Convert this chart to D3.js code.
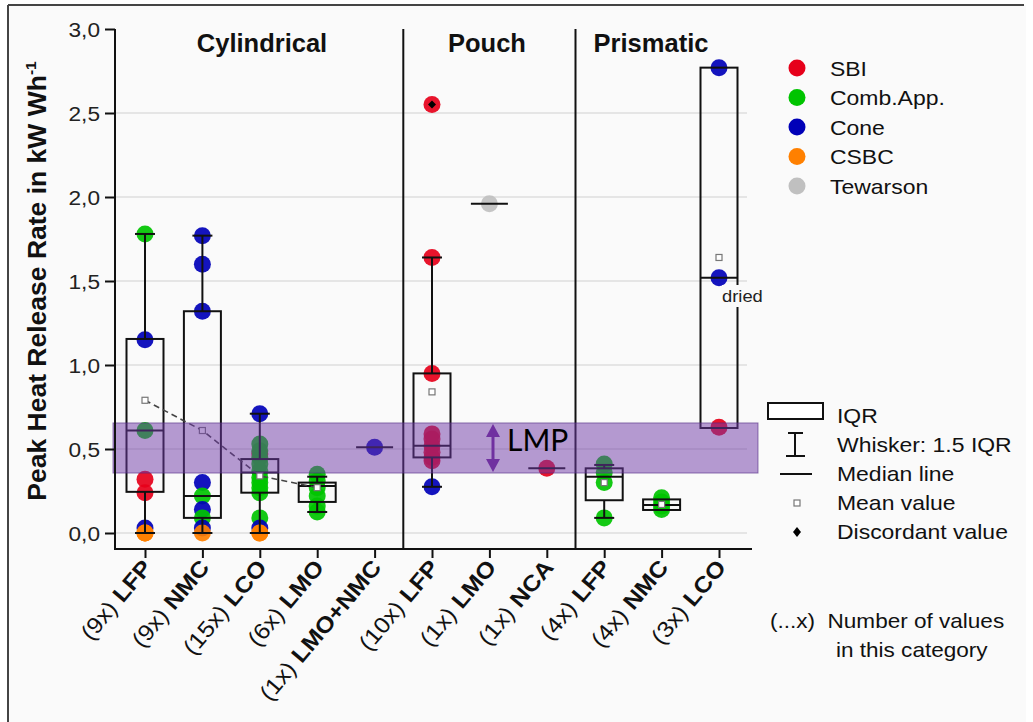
<!DOCTYPE html>
<html><head><meta charset="utf-8">
<script src="https://cdn.jsdelivr.net/npm/d3@7"></script>
<style>body{margin:0;background:#fff} svg{display:block}</style>
</head><body><svg id="c" width="1033" height="722"></svg>
<script>
// ---------- data ----------
const groups = ["Cylindrical","Pouch","Prismatic"];
const categories = ["LFP","NMC","LCO","LMO","LMO+NMC","LFP","LMO","NCA","LFP","NMC","LCO"];
const counts = ["(9x)","(9x)","(15x)","(6x)","(1x)","(10x)","(1x)","(1x)","(4x)","(4x)","(3x)"];
const categoryGroup = [0,0,0,0,0,1,1,1,2,2,2];
const q1 =          [0.245,0.09,0.24,0.185,null,0.45,null,null,0.195,0.137,0.625];
const medians =     [0.61,0.22,0.36,0.28,0.51,0.52,1.96,0.385,0.335,0.167,1.52];
const q3 =          [1.155,1.32,0.44,0.30,null,0.95,null,null,0.385,0.20,2.77];
const whiskerLow =  [0,0,0,0.125,null,0.275,null,null,0.09,0.137,0.625];
const whiskerHigh = [1.78,1.77,0.71,0.335,null,1.64,null,null,0.405,0.20,2.77];
const means =       [0.79,0.61,0.34,0.27,null,0.84,null,null,0.30,0.17,1.64];
const methods = ["SBI","Comb.App.","Cone","CSBC","Tewarson"];
const methodColors = ["#e6001a","#00c400","#0000b8","#ff8000","#c0c0c0"];
const pointValues = [
  [1.78,1.15,0.61,0.32,0.24,0.03,0,0,0],
  [1.77,1.60,1.32,0.30,0.22,0.14,0.09,0.03,0],
  [0.47,0.71,0.53,0.49,0.45,0.41,0.37,0.33,0.30,0.27,0.24,0.09,0.03,0,0],
  [0.35,0.31,0.27,0.22,0.16,0.125],
  [0.51],
  [2.55,1.64,0.95,0.59,0.56,0.52,0.48,0.45,0.43,0.275],
  [1.96],
  [0.385],
  [0.41,0.36,0.30,0.09],
  [0.21,0.185,0.16,0.14],
  [2.77,1.52,0.63]
];
const pointMethods = [
  [1,2,1,0,0,2,3,3,3],
  [2,2,2,2,1,2,1,2,3],
  [0,2,1,1,1,1,1,1,1,1,1,1,2,3,3],
  [1,1,1,1,1,1],
  [2],
  [0,0,0,0,0,0,0,0,0,2],
  [4],
  [0],
  [1,1,1,1],
  [1,1,1,1],
  [2,2,0]
];
const discordantCat = [5];
const discordantVal = [2.55];
const lmpRange = [0.357, 0.655];
const yTicks = [0,0.5,1,1.5,2,2.5,3];
const boxLegend = ["IQR","Whisker: 1.5 IQR","Median line","Mean value","Discordant value"];

// ---------- layout ----------
const svg = d3.select("#c");
const FONT = "'Liberation Sans', Arial, sans-serif";
const y = d3.scaleLinear().domain([0,3]).range([533,29]);
const x = d3.scalePoint().domain(d3.range(categories.length)).range([145,719]);
const axisY = 549, axisX0 = 115, axisX1 = 752;
const boxHalf = 18.5, capHalf = 10;

// background & frame
svg.append("rect").attr("x",8).attr("y",5).attr("width",1018).attr("height",730).attr("fill","#fafafa");
svg.append("line").attr("x1",8).attr("x2",1024).attr("y1",5).attr("y2",5).attr("stroke","#444").attr("stroke-width",2);
svg.append("line").attr("x1",8).attr("x2",8).attr("y1",5).attr("y2",722).attr("stroke","#444").attr("stroke-width",2);

// gridlines
svg.append("g").selectAll("line").data(yTicks.filter(t=>t<3)).join("line")
  .attr("x1",axisX0+1).attr("x2",747).attr("y1",d=>y(d)).attr("y2",d=>y(d))
  .attr("stroke","#dedede").attr("stroke-width",1.5);

// group dividers
const dividers = [4.5, 7.5];
dividers.forEach(d=>{
  const px = (x(Math.floor(d)) + x(Math.ceil(d)))/2;
  svg.append("line").attr("x1",px).attr("x2",px).attr("y1",29).attr("y2",axisY)
    .attr("stroke","#111").attr("stroke-width",2);
});

// group headers
const groupCenters = [262, 487, 651];
groups.forEach((g,i)=>{
  svg.append("text").attr("x",groupCenters[i]).attr("y",52).attr("text-anchor","middle")
    .attr("font-family",FONT).attr("font-weight","bold").attr("font-size",25.5).attr("fill","#111").text(g);
});

// points
const ptsG = svg.append("g");
pointValues.forEach((vals,ci)=>{
  vals.forEach((v,k)=>{
    ptsG.append("circle").attr("cx",x(ci)).attr("cy",y(v)).attr("r",8.5)
      .attr("fill",methodColors[pointMethods[ci][k]]).attr("opacity",0.92);
  });
});

// boxes
const boxG = svg.append("g").attr("stroke","#111").attr("stroke-width",2).attr("fill","none");
categories.forEach((c,i)=>{
  const cx = x(i);
  if (q1[i] !== null) {
    if (whiskerHigh[i] > q3[i] + 0.001) {
      boxG.append("line").attr("x1",cx).attr("x2",cx).attr("y1",y(q3[i])).attr("y2",y(whiskerHigh[i]));
      boxG.append("line").attr("x1",cx-capHalf).attr("x2",cx+capHalf).attr("y1",y(whiskerHigh[i])).attr("y2",y(whiskerHigh[i]));
    }
    if (whiskerLow[i] < q1[i] - 0.001) {
      boxG.append("line").attr("x1",cx).attr("x2",cx).attr("y1",y(q1[i])).attr("y2",y(whiskerLow[i]));
      boxG.append("line").attr("x1",cx-capHalf).attr("x2",cx+capHalf).attr("y1",y(whiskerLow[i])).attr("y2",y(whiskerLow[i]));
    }
    boxG.append("rect").attr("x",cx-boxHalf).attr("width",2*boxHalf)
      .attr("y",y(q3[i])).attr("height",y(q1[i])-y(q3[i]));
  }
  boxG.append("line").attr("x1",cx-boxHalf).attr("x2",cx+boxHalf).attr("y1",y(medians[i])).attr("y2",y(medians[i]));
});

// dashed line through cylindrical means
const cylIdx = d3.range(categories.length).filter(i=>categoryGroup[i]===0 && means[i]!==null);
svg.append("path").attr("d", d3.line().x(i=>x(i)).y(i=>y(means[i]))(cylIdx))
  .attr("fill","none").attr("stroke","#444").attr("stroke-width",1.6).attr("stroke-dasharray","6,4");

// mean squares
categories.forEach((c,i)=>{
  if (means[i]===null) return;
  svg.append("rect").attr("x",x(i)-3).attr("y",y(means[i])-3).attr("width",6).attr("height",6)
    .attr("fill","#fff").attr("stroke","#777").attr("stroke-width",1.2);
});

// discordant
discordantCat.forEach((ci,k)=>{
  const cx = x(ci), cy = y(discordantVal[k]);
  svg.append("path").attr("d",`M${cx},${cy-4}L${cx+4},${cy}L${cx},${cy+4}L${cx-4},${cy}Z`).attr("fill","#000");
});

// "dried" label
svg.append("rect").attr("x",722).attr("y",285).attr("width",46).attr("height",22).attr("fill","#fafafa");
svg.append("text").attr("transform","translate(722,302) scale(1.08,1)")
  .attr("font-family",FONT).attr("font-size",17).attr("fill","#222").text("dried");

// LMP band
svg.append("rect").attr("x",axisX0-2).attr("width",758-axisX0+2)
  .attr("y",y(lmpRange[1])).attr("height",y(lmpRange[0])-y(lmpRange[1]))
  .attr("fill","rgba(110,55,165,0.5)").attr("stroke","rgba(80,40,130,0.6)").attr("stroke-width",1);

// LMP arrow
const ax = 493, ay1 = y(lmpRange[1]) + 1, ay2 = y(lmpRange[0]) - 1;
svg.append("line").attr("x1",ax).attr("x2",ax).attr("y1",ay1+10).attr("y2",ay2-10).attr("stroke","#7030a0").attr("stroke-width",3);
svg.append("path").attr("d",`M${ax},${ay1}L${ax+7},${ay1+13}L${ax-7},${ay1+13}Z`).attr("fill","#7030a0");
svg.append("path").attr("d",`M${ax},${ay2}L${ax+7},${ay2-13}L${ax-7},${ay2-13}Z`).attr("fill","#7030a0");
svg.append("text").attr("x",507).attr("y",451).attr("font-family","Lato, 'Open Sans', sans-serif")
  .attr("font-size",30).attr("fill","#000").text("LMP");

// y axis
const yAxisG = svg.append("g").attr("transform",`translate(${axisX0},0)`)
  .call(d3.axisLeft(y).tickValues(yTicks).tickSize(10).tickFormat(d=>d3.format(".1f")(d).replace(".",",")));
yAxisG.select(".domain").remove();
yAxisG.selectAll(".tick line").attr("stroke","#111").attr("stroke-width",2);
yAxisG.selectAll(".tick text").each(function(){
  d3.select(this).attr("x",null).attr("dy",null).attr("text-anchor","end")
   .attr("transform","translate(-15,7) scale(1.08,1)")
   .attr("font-family",FONT).attr("font-size",21).attr("fill","#222");
});
svg.append("line").attr("x1",axisX0).attr("x2",axisX0).attr("y1",29).attr("y2",axisY+1)
  .attr("stroke","#111").attr("stroke-width",2);

// x axis
const xAxisG = svg.append("g").attr("transform",`translate(0,${axisY})`)
  .call(d3.axisBottom(x).tickSize(9).tickFormat(""));
xAxisG.select(".domain").remove();
xAxisG.selectAll(".tick line").attr("stroke","#111").attr("stroke-width",2);
svg.append("line").attr("x1",axisX0-1).attr("x2",axisX1).attr("y1",axisY).attr("y2",axisY)
  .attr("stroke","#111").attr("stroke-width",2);
categories.forEach((c,i)=>{
  const t = svg.append("text").attr("text-anchor","end")
    .attr("transform",`translate(${x(i)+8},${axisY+19}) rotate(-50) scale(1.1,1)`)
    .attr("font-family",FONT).attr("font-size",22.5).attr("fill","#111");
  t.append("tspan").text(counts[i] + " ");
  t.append("tspan").attr("font-weight","bold").text(c);
});

// y title
const yt = svg.append("text").attr("transform","translate(46,281) rotate(-90)").attr("text-anchor","middle")
  .attr("font-family",FONT).attr("font-weight","bold").attr("font-size",26.5).attr("fill","#111");
yt.append("tspan").text("Peak Heat Release Rate in kW Wh");
yt.append("tspan").attr("dy",-10).attr("font-size",15.5).text("-1");

// method legend
methods.forEach((m,i)=>{
  const ly = 68 + i*29.5;
  svg.append("circle").attr("cx",797).attr("cy",ly).attr("r",8.5).attr("fill",methodColors[i]);
  svg.append("text").attr("transform",`translate(830,${ly+7.5}) scale(1.12,1)`)
    .attr("font-family",FONT).attr("font-size",20.5).attr("fill","#111").text(m);
});

// box legend
const bl = svg.append("g").attr("stroke","#111").attr("stroke-width",2).attr("fill","none");
bl.append("rect").attr("x",768).attr("y",403).attr("width",55).attr("height",16).attr("fill","#fff");
bl.append("line").attr("x1",795).attr("x2",795).attr("y1",433).attr("y2",456);
bl.append("line").attr("x1",788).attr("x2",803).attr("y1",433).attr("y2",433);
bl.append("line").attr("x1",786).attr("x2",805).attr("y1",456).attr("y2",456);
bl.append("line").attr("x1",780).attr("x2",812).attr("y1",474).attr("y2",474);
svg.append("rect").attr("x",794).attr("y",500).attr("width",6).attr("height",6).attr("fill","#fff").attr("stroke","#777").attr("stroke-width",1.2);
svg.append("path").attr("d","M797,527L801,532L797,537L793,532Z").attr("fill","#000");
boxLegend.forEach((t,i)=>{
  svg.append("text").attr("transform",`translate(837,${423 + i*29}) scale(1.12,1)`)
    .attr("font-family",FONT).attr("font-size",20.5).attr("fill","#111").text(t);
});

// count note
svg.append("text").attr("transform","translate(770,628) scale(1.1,1)")
  .attr("font-family",FONT).attr("font-size",20.5).attr("fill","#111").attr("xml:space","preserve").text("(...x)  Number of values");
svg.append("text").attr("transform","translate(836,657) scale(1.1,1)")
  .attr("font-family",FONT).attr("font-size",20.5).attr("fill","#111").text("in this category");
</script>
</body></html>
